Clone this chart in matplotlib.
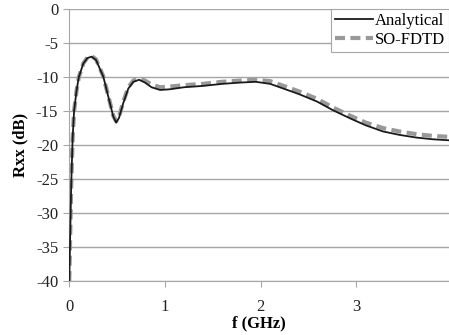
import numpy as np
import matplotlib
matplotlib.use("Agg")
import matplotlib.pyplot as plt

plt.rcParams['font.family'] = ['Liberation Serif', 'DejaVu Serif']
plt.rcParams['axes.unicode_minus'] = False

# analytical curve
f_an = [0, 0.01, 0.02, 0.035, 0.05, 0.077, 0.10, 0.147, 0.19, 0.234, 0.28, 0.356,
        0.426, 0.46, 0.49, 0.52, 0.565, 0.617, 0.67, 0.73, 0.79, 0.86, 0.95, 1.05,
        1.2, 1.4, 1.6, 1.8, 1.95, 2.1, 2.24, 2.4, 2.59, 2.76, 2.94, 3.1, 3.28, 3.45,
        3.63, 3.8, 3.97]
rxx_an = [-40, -33, -26, -19, -15, -11.9, -10, -8.0, -7.2, -7.0, -7.5, -9.95,
          -13.9, -15.8, -16.7, -16.0, -13.8, -11.7, -10.7, -10.4, -10.8, -11.5, -11.9,
          -11.8, -11.5, -11.3, -11.0, -10.8, -10.7, -11.0, -11.7, -12.5, -13.6, -14.9,
          -16.1, -17.1, -18.0, -18.5, -18.9, -19.15, -19.3]

# SO-FDTD curve
f_fd = [0, 0.01, 0.02, 0.035, 0.05, 0.077, 0.10, 0.147, 0.19, 0.234, 0.28, 0.356,
        0.426, 0.46, 0.49, 0.52, 0.565, 0.617, 0.67, 0.73, 0.79, 0.86, 0.95, 1.05,
        1.2, 1.4, 1.6, 1.8, 1.95, 2.1, 2.24, 2.4, 2.59, 2.76, 2.94, 3.1, 3.28, 3.45,
        3.63, 3.8, 3.97]
rxx_fd = [-40, -33, -26, -19, -15, -11.9, -10, -8.0, -7.1, -6.9, -7.4, -9.9,
          -13.8, -15.7, -16.5, -15.8, -13.6, -11.5, -10.5, -10.2, -10.5, -11.1, -11.5,
          -11.4, -11.2, -11.0, -10.7, -10.5, -10.4, -10.6, -11.3, -12.1, -13.2, -14.5,
          -15.7, -16.7, -17.5, -18.0, -18.4, -18.65, -18.8]

fig = plt.figure(figsize=(4.49, 3.35), dpi=100)
ax = fig.add_axes([0.1543, 0.161, 0.8457, 0.812])

ax.plot(f_fd, rxx_fd, color='#999999', lw=3, dashes=(2.4, 1.3), label='SO-FDTD', zorder=2)
ax.plot(f_an, rxx_an, color='#1a1a1a', lw=1.3, label='Analytical', zorder=3)

ax.set_xlim(0, 3.97)
ax.set_ylim(-40, 0)
ax.set_xticks([0, 1, 2, 3])
ax.set_yticks(np.arange(-40, 1, 5))
ax.yaxis.grid(True, color='#a6a6a6', lw=1)
ax.set_axisbelow(True)
for s in ['top', 'right']:
    ax.spines[s].set_visible(False)
for s in ['left', 'bottom']:
    ax.spines[s].set_color('#a6a6a6')
ax.tick_params(colors='#a6a6a6', labelcolor='#222222', labelsize=12, length=4)
ax.tick_params(axis='x', pad=9)
ax.tick_params(axis='y', pad=4)

ax.set_xlabel('f (GHz)', fontweight='bold', fontsize=12, labelpad=0)
ax.set_ylabel('Rxx (dB)', fontweight='bold', fontsize=12, labelpad=5)

h, l = ax.get_legend_handles_labels()
leg = ax.legend(h[::-1], l[::-1], loc='upper right', fontsize=12, fancybox=False,
                framealpha=1, edgecolor='#a6a6a6', borderaxespad=0, handlelength=2.3,
                handletextpad=0.1, borderpad=0.25, labelspacing=0.15)
leg.get_frame().set_linewidth(0.8)

fig.savefig('out.png', dpi=100)
